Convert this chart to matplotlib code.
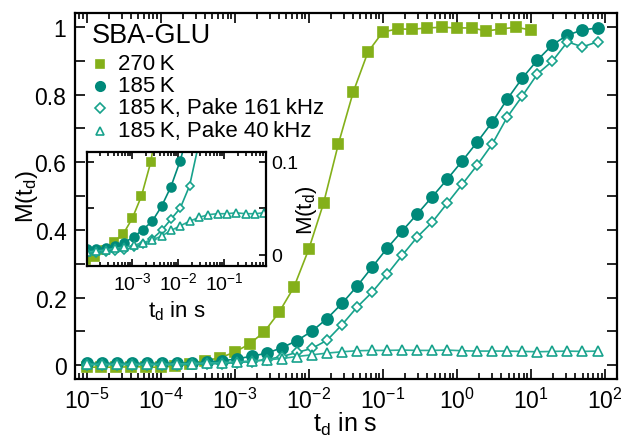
import numpy as np
import matplotlib
matplotlib.use("Agg")
import matplotlib.pyplot as plt
from matplotlib.ticker import FixedLocator, MultipleLocator, NullFormatter

plt.rcParams['font.family'] = ['Liberation Sans', 'DejaVu Sans']
plt.rcParams['mathtext.fontset'] = 'custom'
plt.rcParams['mathtext.rm'] = 'Liberation Sans'
plt.rcParams['mathtext.it'] = 'Liberation Sans:italic'
plt.rcParams['mathtext.default'] = 'regular'

# 270 K: log10(t_d) from -5 to 1 in steps of 0.2
lt_270 = np.round(np.arange(-5, 1.01, 0.2), 2)
m_270 = [-0.006, -0.005, -0.006, -0.004, -0.005, -0.006, -0.002, 0.005, 0.014, 0.022,
         0.039, 0.063, 0.099, 0.157, 0.231, 0.343, 0.479, 0.654, 0.807, 0.926,
         0.985, 0.994, 0.993, 0.997, 0.999, 0.997, 0.997, 0.988, 0.994, 0.999, 0.991]

# 185 K series: 35 points from 1e-5 to ~80 s
lt_185 = np.linspace(-5, 1.9, 35)
m_185 = [0.006, 0.006, 0.006, 0.006, 0.006, 0.006, 0.006, 0.007, 0.009, 0.013,
         0.019, 0.027, 0.036, 0.052, 0.073, 0.101, 0.138, 0.183, 0.234, 0.290,
         0.346, 0.397, 0.447, 0.498, 0.550, 0.604, 0.660, 0.719, 0.787, 0.849,
         0.902, 0.947, 0.976, 0.991, 0.997]
m_161 = [0.002, 0.002, 0.002, 0.002, 0.002, 0.002, 0.002, 0.003, 0.004, 0.005,
         0.008, 0.011, 0.017, 0.026, 0.038, 0.050, 0.074, 0.120, 0.172, 0.216,
         0.269, 0.325, 0.379, 0.423, 0.479, 0.535, 0.592, 0.654, 0.734, 0.796,
         0.861, 0.899, 0.956, 0.941, 0.956]
m_40 = [0.003, 0.003, 0.003, 0.003, 0.003, 0.003, 0.004, 0.005, 0.007, 0.008,
        0.010, 0.013, 0.016, 0.020, 0.026, 0.031, 0.036, 0.040, 0.043, 0.044,
        0.044, 0.045, 0.044, 0.044, 0.045, 0.043, 0.042, 0.042, 0.042, 0.041,
        0.040, 0.041, 0.042, 0.041, 0.042]

labels = ["270\u2009K", "185\u2009K", "185\u2009K, Pake 161\u2009kHz", "185\u2009K, Pake 40\u2009kHz"]

green = '#84B01A'
teal_dark = '#00897A'
teal = '#17A28C'

series = [
    (lt_270, m_270, green, green, 's', 6.5, True),
    (lt_185, m_185, teal_dark, teal_dark, 'o', 8, True),
    (lt_185, m_161, teal, teal, 'D', 5.5, False),
    (lt_185, m_40, teal, '#2AAE98', '^', 7, False),
]


def draw(ax, scale):
    for lt, m, mc, lc, mk, ms, filled in series:
        t = 10 ** np.asarray(lt)
        ax.plot(t, m, '-', color=lc, lw=1.2)
        ax.plot(t, m, ls='none', marker=mk, ms=ms * scale,
                mfc=mc if filled else 'white', mec=mc, mew=1.2)


def style(ax, fs, maj, mnr, dec):
    ax.set_xscale('log')
    ax.tick_params(which='both', direction='in', top=True, right=True, width=1.2)
    ax.tick_params(which='major', length=maj, labelsize=fs)
    ax.tick_params(which='minor', length=mnr)
    ax.xaxis.set_major_locator(FixedLocator([10.0 ** d for d in dec]))
    minors = [s * 10.0 ** d for d in range(dec[0] - 1, dec[-1] + 1) for s in range(2, 10)]
    ax.xaxis.set_minor_locator(FixedLocator(minors))
    ax.xaxis.set_minor_formatter(NullFormatter())
    for s in ax.spines.values():
        s.set_linewidth(1.6)


fig = plt.figure(figsize=(6.23, 4.39), dpi=100)
ax = fig.add_axes([0.120, 0.134, 0.870, 0.834])
draw(ax, 1.0)
style(ax, 16.5, 7, 4, list(range(-5, 3)))
ax.set_xlim(10 ** -5.16, 10 ** 2.16)
ax.set_ylim(-0.041, 1.041)
ax.set_yticks([0, 0.2, 0.4, 0.6, 0.8, 1.0])
ax.set_yticklabels(['0', '0.2', '0.4', '0.6', '0.8', '1'])
ax.yaxis.set_minor_locator(MultipleLocator(0.1))
ax.tick_params(which='minor', axis='y', length=7)
ax.tick_params(axis='y', which='major', pad=6)
ax.tick_params(axis='x', which='major', pad=6)
ax.set_xlabel('t$_d$ in s', fontsize=18, labelpad=-2)
ax.set_ylabel('M(t$_d$)', fontsize=17)
# the label sits in the tick-label column, between 0.4 and 0.6
ax.yaxis.set_label_coords(-0.064, 0.50)

# legend drawn by hand so rows sit where the reference has them
ax.text(0.031, 0.940, 'SBA-GLU', transform=ax.transAxes, fontsize=19.5,
        ha='left', va='center')
row_y = [0.861, 0.801, 0.741, 0.678]
for (lt, m, mc, lc, mk, ms, filled), lab, yy in zip(series, labels, row_y):
    ax.plot([0.046], [yy], transform=ax.transAxes, ls='none', marker=mk,
            ms=ms * 0.85, mfc=mc if filled else 'white', mec=mc, mew=1.2,
            clip_on=False)
    ax.text(0.079, yy, lab, transform=ax.transAxes, fontsize=16,
            ha='left', va='center')

ins = fig.add_axes([0.140, 0.392, 0.287, 0.259])
draw(ins, 0.8)
style(ins, 14, 5, 3, [-3, -2, -1])
ins.set_xlim(10 ** -3.98, 10 ** -0.09)
ins.set_ylim(-0.012, 0.11)
ins.set_yticks([0, 0.1])
ins.set_yticklabels(['0', '0.1'])
ins.yaxis.set_minor_locator(MultipleLocator(0.05))
ins.tick_params(axis='y', which='both', labelleft=False, labelright=True, length=5)
ins.yaxis.set_label_position('right')
ins.set_ylabel('M(t$_d$)', fontsize=16, rotation=90, labelpad=-3)
ins.set_xlabel('t$_d$ in s', fontsize=16, labelpad=4)

fig.savefig('out.png', dpi=100)
